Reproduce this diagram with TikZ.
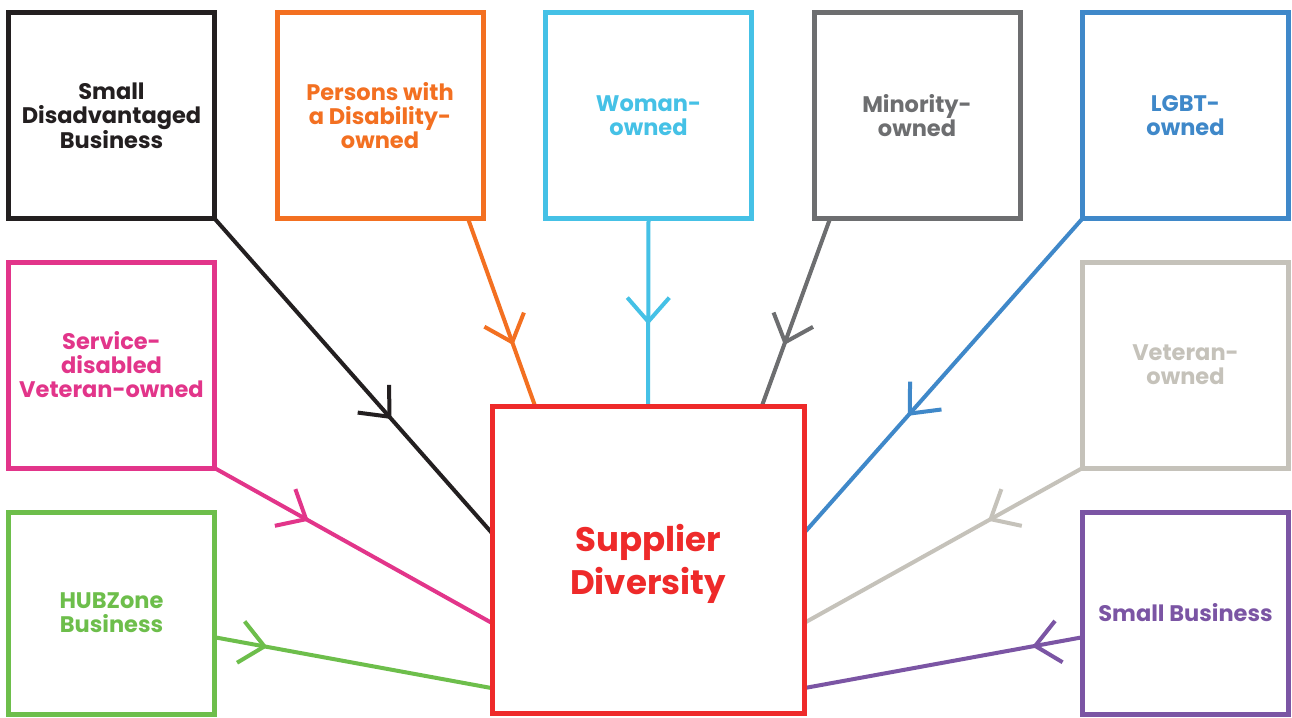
\documentclass[tikz,border=0pt]{standalone}
\usepackage{fontspec}
\setmainfont{Poppins}
\usetikzlibrary{decorations.markings,calc}

\definecolor{cBlack}{HTML}{231F20}
\definecolor{cOrange}{HTML}{F37021}
\definecolor{cCyan}{HTML}{45C1E6}
\definecolor{cGray}{HTML}{6D6E70}
\definecolor{cBlue}{HTML}{3F88C9}
\definecolor{cPink}{HTML}{E2358A}
\definecolor{cSand}{HTML}{C5C2BA}
\definecolor{cGreen}{HTML}{6DBE4B}
\definecolor{cPurple}{HTML}{7B55A4}
\definecolor{cRed}{HTML}{EE2A2A}

\pgfdeclarelayer{paper}
\pgfdeclarelayer{links}
\pgfsetlayers{paper,links,main}

\begin{document}
\begin{tikzpicture}[x=1pt,y=-1pt,
  cat/.style={draw=#1, text=#1, line width=5pt, minimum width=206pt,
    minimum height=206pt, inner sep=0pt, outer sep=0pt, align=center,
    font=\bfseries\fontsize{22.5}{24}\selectfont},
  hub/.style={draw=#1, line width=5pt, minimum width=312pt,
    minimum height=307pt, inner sep=0pt, outer sep=0pt},
  hubtext/.style={text=#1, align=center, yshift=-4pt,
    font=\bfseries\fontsize{34}{43}\selectfont},
  link/.style={draw=#1, color=#1, line width=4pt},
  chev/.style={postaction={decorate, decoration={markings,
    mark=at position #1 with {\draw[line width=4pt] (-24,21) -- (0,0) -- (-24,-21);}}}}]

\begin{pgfonlayer}{paper}
  \fill[white] (0,0) rectangle (1292,717);
\end{pgfonlayer}
\useasboundingbox (0,0) rectangle (1292,717);

% category boxes
\node[cat=cBlack]  (sdb) at (111.5,115.5) {Small\\Disadvantaged\\Business};
\node[cat=cOrange] (pwd) at (380,115.5) {Persons with\\a Disability-\\owned};
\node[cat=cCyan]   (wo)  at (648.5,115.5) {Woman-\\owned};
\node[cat=cGray]   (mo)  at (917,115.5) {Minority-\\owned};
\node[cat=cBlue]   (lg)  at (1185.5,115.5) {LGBT-\\owned};
\node[cat=cPink]   (sv)  at (111.5,365) {Service-\\disabled\\Veteran-owned};
\node[cat=cSand]   (vo)  at (1185.5,365) {Veteran-\\owned};
\node[cat=cGreen, minimum height=202pt]  (hz) at (111.5,613) {HUBZone\\Business};
\node[cat=cPurple, minimum height=202pt] (sb) at (1185.5,613) {Small Business};

% central box
\node[hub=cRed, label={[hubtext=cRed]center:Supplier\\Diversity}] (sd) at (648,559.5) {};

% connectors into the central box
\begin{pgfonlayer}{links}
\draw[link=cBlack, chev=0.63] (sdb.south east) -- ($(sd.north west)!0.414!(sd.south west)$);
\draw[link=cOrange, chev=0.66] ($(pwd.south west)!0.927!(pwd.south east)$) -- ($(sd.north west)!0.138!(sd.north east)$);
\draw[link=cCyan, chev=0.55] (wo.south) -- (sd.north);
\draw[link=cGray, chev=0.66] ($(mo.south west)!0.078!(mo.south east)$) -- ($(sd.north west)!0.865!(sd.north east)$);
\draw[link=cBlue, chev=0.62] (lg.south west) -- ($(sd.north east)!0.414!(sd.south east)$);
\draw[link=cPink, chev=0.33] (sv.south east) -- ($(sd.north west)!0.707!(sd.south west)$);
\draw[link=cSand, chev=0.33] (vo.south west) -- ($(sd.north east)!0.707!(sd.south east)$);
\draw[link=cGreen, chev=0.18] ($(hz.north east)!0.62!(hz.south east)$) -- ($(sd.north west)!0.919!(sd.south west)$);
\draw[link=cPurple, chev=0.17] ($(sb.north west)!0.62!(sb.south west)$) -- ($(sd.north east)!0.919!(sd.south east)$);
\end{pgfonlayer}
\end{tikzpicture}
\end{document}
